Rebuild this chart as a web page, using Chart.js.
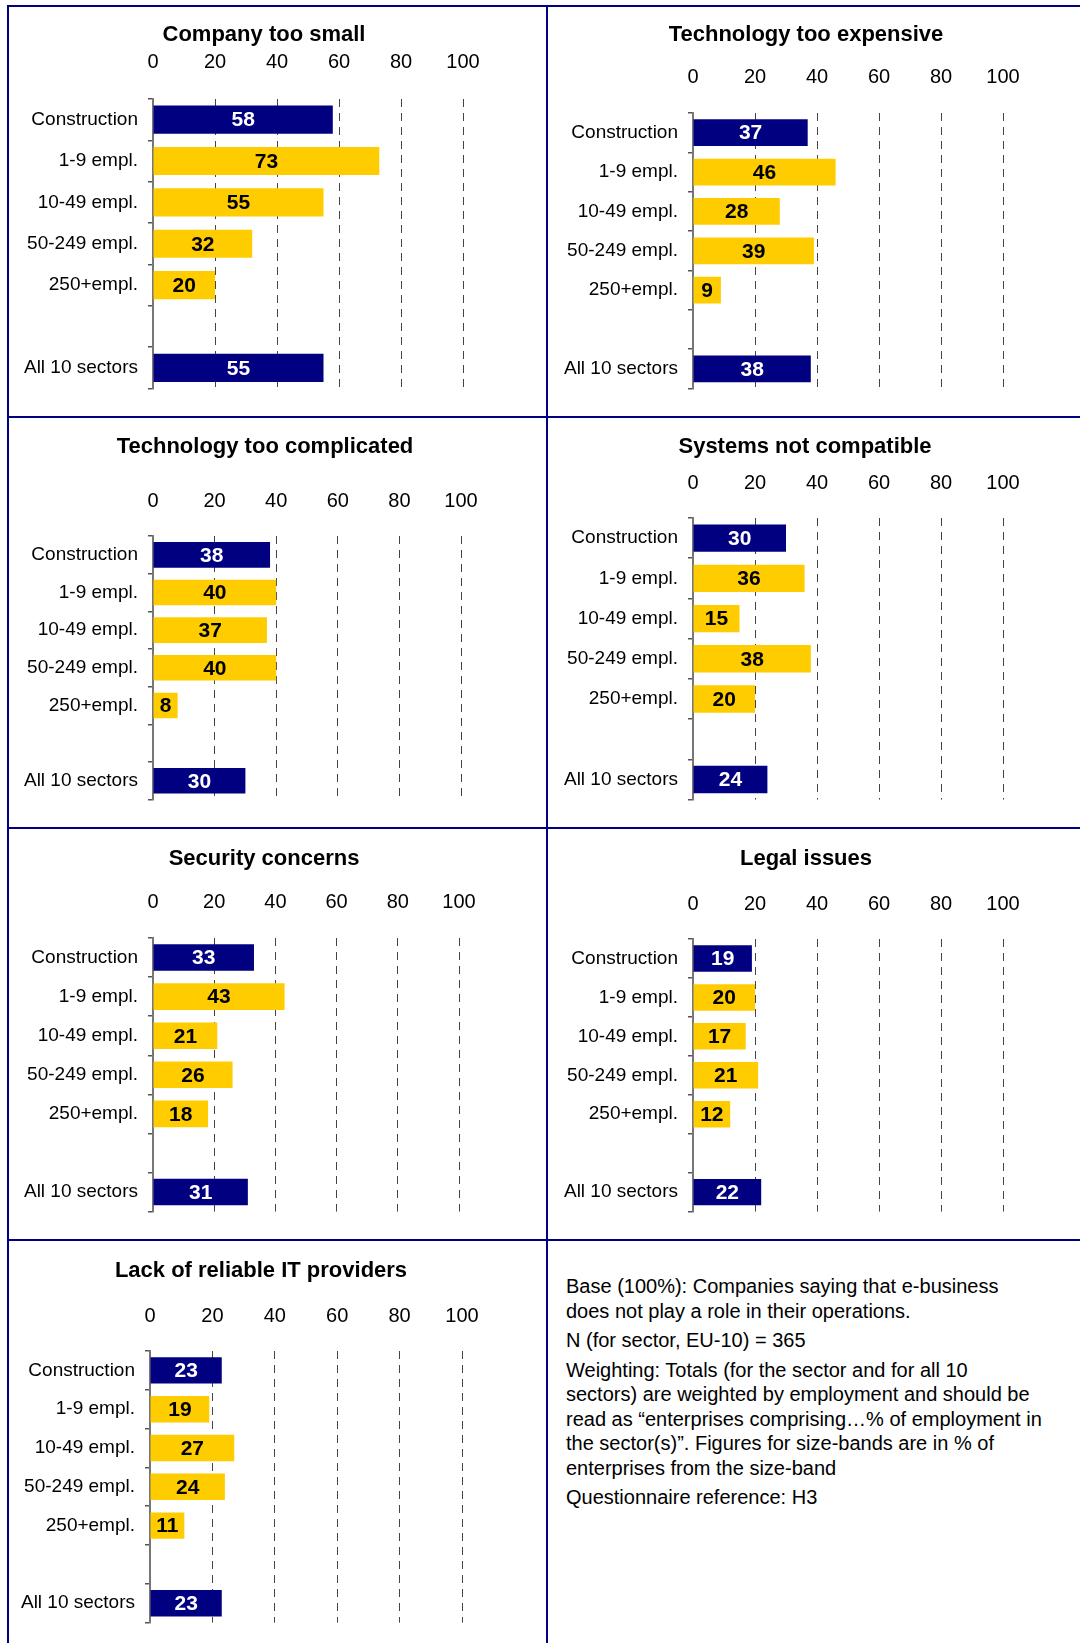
<!DOCTYPE html>
<html>
<head>
<meta charset="utf-8">
<script src="https://cdn.jsdelivr.net/npm/chart.js@4.4.0/dist/chart.umd.min.js"></script>
<style>
  body { margin: 0; background: #fff; width: 1080px; height: 1643px; overflow: hidden; position: relative; font-family: "Liberation Sans", Arial, sans-serif; }
  .line { position: absolute; background: #000080; }
  canvas { position: absolute; }
  #notes { position: absolute; left: 566px; top: 1274px; font-size: 20px; line-height: 24.5px; color: #000; white-space: nowrap; }
  #notes p { margin: 0 0 5px 0; }
</style>
</head>
<body>
<div class="line" style="left:7px;top:5px;width:1073px;height:2px"></div>
<div class="line" style="left:7px;top:416px;width:1073px;height:2px"></div>
<div class="line" style="left:7px;top:827px;width:1073px;height:2px"></div>
<div class="line" style="left:7px;top:1239px;width:1073px;height:2px"></div>
<div class="line" style="left:7px;top:5px;width:2px;height:1638px"></div>
<div class="line" style="left:546px;top:5px;width:2px;height:1638px"></div>

<canvas id="c1"></canvas>
<canvas id="c2"></canvas>
<canvas id="c3"></canvas>
<canvas id="c4"></canvas>
<canvas id="c5"></canvas>
<canvas id="c6"></canvas>
<canvas id="c7"></canvas>

<div id="notes">
  <p>Base (100%): Companies saying that e-business<br>does not play a role in their operations.</p>
  <p>N (for sector, EU-10) = 365</p>
  <p>Weighting: Totals (for the sector and for all 10<br>sectors) are weighted by employment and should be<br>read as “enterprises comprising…% of employment in<br>the sector(s)”. Figures for size-bands are in % of<br>enterprises from the size-band</p>
  <p>Questionnaire reference: H3</p>
</div>

<script>
const FONT = '"Liberation Sans", Arial, sans-serif'
const NAVY = "#000080"
const YELLOW = "#FFCC00"

// row labels, the empty one is the gap before the total
const categories = ["Construction", "1-9 empl.", "10-49 empl.", "50-249 empl.", "250+empl.", "", "All 10 sectors"]
const totalRows = ["Construction", "All 10 sectors"]
const xTicks = [0, 20, 40, 60, 80, 100]

const companyTooSmall = [58, 73, 55, 32, 20, null, 55]
const techTooExpensive = [37, 46, 28, 39, 9, null, 38]
const techTooComplicated = [38, 40, 37, 40, 8, null, 30]
const systemsNotCompatible = [30, 36, 15, 38, 20, null, 24]
const securityConcerns = [33, 43, 21, 26, 18, null, 31]
const legalIssues = [19, 20, 17, 21, 12, null, 22]
const lackOfProviders = [23, 19, 27, 24, 11, null, 23]

const titles = [
    "Company too small", "Technology too expensive", "Technology too complicated",
    "Systems not compatible", "Security concerns", "Legal issues", "Lack of reliable IT providers"
]
const series = [companyTooSmall, techTooExpensive, techTooComplicated,
    systemsNotCompatible, securityConcerns, legalIssues, lackOfProviders]

// where each panel sits on the page (canvas box, plot area, tick row, title centre)
const frames = [
    { left: 10, top: 7, width: 536, areaL: 153, areaR: 463, areaT: 99, areaB: 406, tickY: 62, titleX: 264, titleY: 35 },
    { left: 548, top: 7, width: 532, areaL: 693, areaR: 1003, areaT: 113, areaB: 406, tickY: 77, titleX: 806, titleY: 35 },
    { left: 10, top: 418, width: 536, areaL: 153, areaR: 461, areaT: 536, areaB: 817, tickY: 501, titleX: 265, titleY: 447 },
    { left: 548, top: 418, width: 532, areaL: 693, areaR: 1003, areaT: 518, areaB: 817, tickY: 483, titleX: 805, titleY: 447 },
    { left: 10, top: 829, width: 536, areaL: 153, areaR: 459, areaT: 938, areaB: 1229, tickY: 902, titleX: 264, titleY: 859 },
    { left: 548, top: 829, width: 532, areaL: 693, areaR: 1003, areaT: 939, areaB: 1229, tickY: 904, titleX: 806, titleY: 859 },
    { left: 10, top: 1241, width: 536, areaL: 150, areaR: 462, areaT: 1351, areaB: 1640, tickY: 1316, titleX: 261, titleY: 1271 }
]

/**
 * Writes the value in the middle of each bar
 */
const barValueLabels = {
    id: "barValueLabels",
    afterDatasetsDraw(chart) {
        const ctx = chart.ctx
        const values = chart.data.datasets[0].data
        ctx.save()
        ctx.font = "bold 21px " + FONT
        ctx.textAlign = "center"
        ctx.textBaseline = "middle"
        chart.getDatasetMeta(0).data.forEach((bar, i) => {
            if (values[i] == null) return
            ctx.fillStyle = totalRows.includes(categories[i]) ? "#fff" : "#000"
            ctx.fillText(String(values[i]), (bar.x + bar.base) / 2, bar.y + 1)
        })
        ctx.restore()
    }
}

/**
 * Panel title, placed freely (the built-in title box would squeeze the row labels)
 */
const panelTitle = {
    id: "panelTitle",
    afterDraw(chart, args, opts) {
        const ctx = chart.ctx
        ctx.save()
        ctx.font = "bold 22px " + FONT
        ctx.fillStyle = "#000"
        ctx.textAlign = "center"
        ctx.textBaseline = "middle"
        ctx.fillText(opts.text, opts.x, opts.y)
        ctx.restore()
    }
}

const plotPanel = (canvasId, title, values, f) => {
    const canvas = document.getElementById(canvasId)
    const bottomPad = 4
    canvas.width = f.width
    canvas.height = f.areaB - f.top + bottomPad
    canvas.style.left = f.left + "px"
    canvas.style.top = f.top + "px"

    const padRight = f.width - (f.areaR - f.left)
    const yWidth = f.areaL - f.left
    const xHeight = f.areaT - f.top
    const tickPad = f.areaT - f.tickY - 12

    new Chart(canvas, {
        type: "bar",
        data: {
            labels: categories,
            datasets: [{
                data: values,
                backgroundColor: categories.map(c => totalRows.includes(c) ? NAVY : YELLOW),
                borderWidth: 0,
                categoryPercentage: 1,
                barPercentage: 0.68
            }]
        },
        options: {
            indexAxis: "y",
            responsive: false,
            animation: false,
            layout: {
                autoPadding: false,
                padding: { left: 0, right: padRight, top: 0, bottom: bottomPad }
            },
            scales: {
                x: {
                    position: "top",
                    min: 0,
                    max: 100,
                    afterBuildTicks: s => { s.ticks = xTicks.map(v => ({ value: v })) },
                    afterFit: s => { s.height = xHeight },
                    grid: { color: "#444", lineWidth: 1, drawTicks: false },
                    border: { display: false, dash: [8, 6] },
                    ticks: { color: "#000", padding: tickPad, maxRotation: 0, font: { size: 20, family: FONT } }
                },
                y: {
                    afterFit: s => { s.width = yWidth },
                    grid: { display: true, drawOnChartArea: false, drawTicks: true, tickLength: 5, color: "#555", lineWidth: 1.5, offset: true },
                    border: { display: true, color: "#777", width: 2 },
                    ticks: { color: "#000", padding: 10, font: { size: 19, family: FONT } }
                }
            },
            plugins: {
                panelTitle: { text: title, x: f.titleX - f.left, y: f.titleY - f.top },
                legend: { display: false },
                tooltip: { enabled: false }
            }
        },
        plugins: [barValueLabels, panelTitle]
    })
}

series.forEach((values, i) => plotPanel("c" + (i + 1), titles[i], values, frames[i]))
</script>
</body>
</html>
